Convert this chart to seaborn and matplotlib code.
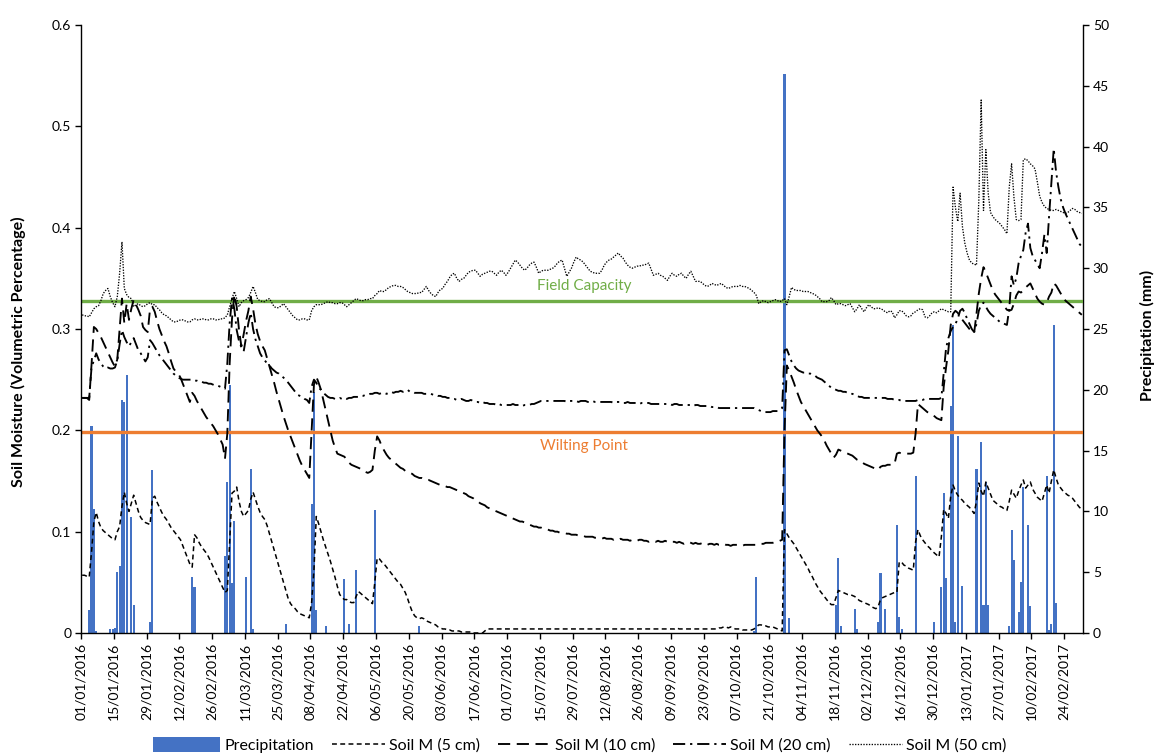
import numpy as np
import pandas as pd
import matplotlib
matplotlib.use("Agg")
import matplotlib.pyplot as plt
from matplotlib.patches import Patch, Rectangle
from matplotlib.lines import Line2D
from matplotlib.legend_handler import HandlerPatch
import seaborn as sns

# ---------------------------------------------------------------
# Daily record, 01/01/2016 (day 0) to 03/03/2017 (day 427)
# ---------------------------------------------------------------
tick_labels = [
    "01/01/2016", "15/01/2016", "29/01/2016", "12/02/2016", "26/02/2016",
    "11/03/2016", "25/03/2016", "08/04/2016", "22/04/2016", "06/05/2016",
    "20/05/2016", "03/06/2016", "17/06/2016", "01/07/2016", "15/07/2016",
    "29/07/2016", "12/08/2016", "26/08/2016", "09/09/2016", "23/09/2016",
    "07/10/2016", "21/10/2016", "04/11/2016", "18/11/2016", "02/12/2016",
    "16/12/2016", "30/12/2016", "13/01/2017", "27/01/2017", "10/02/2017",
    "24/02/2017",
]

# rain days (day index) and daily precipitation (mm)
rain_day = [3, 4, 5, 6, 12, 13, 14, 15, 16, 17, 18, 19, 21, 22, 29, 30, 47, 48,
            61, 62, 63, 64, 65, 70, 72, 73, 87, 98, 99, 100, 104, 112, 114, 117,
            125, 144, 287, 288, 300, 302, 322, 323, 324, 330, 331, 340, 341, 343,
            348, 349, 350, 356, 364, 367, 368, 369, 371, 372, 373, 374, 376,
            382, 384, 385, 386, 387, 396, 397, 398, 400, 401, 402, 404, 405,
            412, 413, 414, 415, 416]
rain_mm = [1.9, 17.0, 10.2, 0.2, 0.3, 0.3, 0.4, 5.0, 5.5, 19.2, 19.0, 21.2, 9.5, 2.3,
           0.9, 13.4, 4.6, 3.8, 6.3, 12.4, 20.4, 4.1, 9.2, 4.6, 13.5, 0.3, 0.7,
           10.6, 19.8, 1.9, 0.6, 4.4, 0.7, 5.2, 10.1, 0.6, 0.2, 4.6, 46.0, 1.2,
           2.3, 6.2, 0.6, 2.0, 0.3, 0.9, 4.9, 2.0, 8.9, 1.3, 0.3, 12.9, 0.9,
           3.8, 11.5, 4.5, 18.7, 25.3, 0.9, 16.2, 3.9, 13.5, 15.7, 2.3, 12.4,
           2.3, 0.6, 8.5, 6.0, 1.75, 4.2, 12.0, 8.9, 2.2, 12.9, 0.25, 0.7,
           25.3, 2.5]

soil_5cm = [
    0.057, 0.057, 0.056, 0.055, 0.080, 0.110, 0.119, 0.110, 0.104, 0.101,
    0.099, 0.097, 0.095, 0.093, 0.092, 0.100, 0.105, 0.125, 0.139, 0.128,
    0.120, 0.128, 0.136, 0.128, 0.120, 0.114, 0.111, 0.109, 0.108, 0.107,
    0.133, 0.135, 0.129, 0.124, 0.119, 0.115, 0.112, 0.108, 0.104, 0.101,
    0.098, 0.095, 0.092, 0.086, 0.080, 0.074, 0.068, 0.065, 0.097, 0.094,
    0.089, 0.085, 0.082, 0.079, 0.075, 0.070, 0.065, 0.060, 0.055, 0.050,
    0.045, 0.040, 0.042, 0.090, 0.138, 0.140, 0.144, 0.130, 0.120, 0.115,
    0.118, 0.121, 0.132, 0.139, 0.132, 0.125, 0.119, 0.115, 0.112, 0.106,
    0.098, 0.090, 0.082, 0.074, 0.066, 0.058, 0.050, 0.042, 0.034, 0.029,
    0.026, 0.024, 0.021, 0.019, 0.018, 0.017, 0.016, 0.015, 0.030, 0.062,
    0.115, 0.108, 0.100, 0.092, 0.085, 0.078, 0.071, 0.063, 0.055, 0.046,
    0.038, 0.035, 0.033, 0.033, 0.031, 0.030, 0.030, 0.036, 0.041, 0.039,
    0.037, 0.035, 0.033, 0.031, 0.029, 0.050, 0.074, 0.073, 0.070, 0.068,
    0.065, 0.062, 0.059, 0.056, 0.053, 0.050, 0.048, 0.044, 0.040, 0.034,
    0.027, 0.021, 0.017, 0.015, 0.014, 0.015, 0.014, 0.012, 0.011, 0.010,
    0.009, 0.008, 0.006, 0.005, 0.004, 0.004, 0.003, 0.003, 0.002, 0.002,
    0.002, 0.002, 0.001, 0.001, 0.001, 0.001, 0.001, 0.000, 0.000, 0.000,
    0.000, 0.000, 0.002, 0.004, 0.004, 0.004, 0.004, 0.004, 0.004, 0.004,
    0.004, 0.004, 0.004, 0.004, 0.004, 0.004, 0.004, 0.004, 0.004, 0.004,
    0.004, 0.004, 0.004, 0.004, 0.004, 0.004, 0.004, 0.004, 0.004, 0.004,
    0.004, 0.004, 0.004, 0.004, 0.004, 0.004, 0.004, 0.004, 0.004, 0.004,
    0.004, 0.004, 0.004, 0.004, 0.004, 0.004, 0.004, 0.004, 0.004, 0.004,
    0.004, 0.004, 0.004, 0.004, 0.004, 0.004, 0.004, 0.004, 0.004, 0.004,
    0.004, 0.004, 0.004, 0.004, 0.004, 0.004, 0.004, 0.004, 0.004, 0.004,
    0.004, 0.004, 0.004, 0.004, 0.004, 0.004, 0.004, 0.004, 0.004, 0.004,
    0.004, 0.004, 0.004, 0.004, 0.005, 0.004, 0.004, 0.004, 0.004, 0.004,
    0.004, 0.004, 0.004, 0.004, 0.004, 0.004, 0.004, 0.004, 0.004, 0.004,
    0.004, 0.004, 0.005, 0.005, 0.006, 0.006, 0.005, 0.006, 0.005, 0.004,
    0.004, 0.004, 0.003, 0.003, 0.003, 0.003, 0.003, 0.004, 0.006, 0.008,
    0.008, 0.007, 0.007, 0.006, 0.006, 0.006, 0.005, 0.004, 0.003, 0.002,
    0.102, 0.098, 0.094, 0.091, 0.088, 0.084, 0.080, 0.076, 0.072, 0.068,
    0.064, 0.059, 0.055, 0.050, 0.046, 0.042, 0.039, 0.036, 0.033, 0.030,
    0.028, 0.028, 0.035, 0.042, 0.041, 0.040, 0.039, 0.038, 0.038, 0.037,
    0.036, 0.034, 0.032, 0.031, 0.030, 0.029, 0.028, 0.026, 0.025, 0.024,
    0.026, 0.033, 0.035, 0.036, 0.037, 0.038, 0.039, 0.040, 0.040, 0.070,
    0.070, 0.067, 0.066, 0.064, 0.063, 0.062, 0.090, 0.102, 0.096, 0.092,
    0.089, 0.086, 0.084, 0.081, 0.079, 0.077, 0.075, 0.095, 0.122, 0.118,
    0.113, 0.135, 0.146, 0.140, 0.136, 0.133, 0.131, 0.128, 0.126, 0.124,
    0.121, 0.118, 0.130, 0.148, 0.140, 0.135, 0.149, 0.143, 0.137, 0.131,
    0.129, 0.127, 0.125, 0.124, 0.122, 0.121, 0.130, 0.141, 0.137, 0.133,
    0.140, 0.146, 0.151, 0.143, 0.146, 0.149, 0.142, 0.138, 0.134, 0.132,
    0.130, 0.138, 0.146, 0.138, 0.150, 0.161, 0.153, 0.146, 0.143, 0.140,
    0.138, 0.136, 0.135, 0.133, 0.130, 0.127, 0.124, 0.122,
]

soil_10cm = [
    0.232, 0.232, 0.232, 0.230, 0.265, 0.302, 0.300, 0.296, 0.292, 0.287,
    0.282, 0.277, 0.272, 0.267, 0.263, 0.270, 0.300, 0.330, 0.306, 0.325,
    0.309, 0.320, 0.329, 0.324, 0.319, 0.313, 0.302, 0.299, 0.297, 0.320,
    0.322, 0.317, 0.308, 0.300, 0.294, 0.288, 0.283, 0.276, 0.268, 0.261,
    0.258, 0.256, 0.252, 0.246, 0.240, 0.234, 0.228, 0.237, 0.234, 0.229,
    0.225, 0.221, 0.217, 0.213, 0.210, 0.207, 0.204, 0.200, 0.196, 0.191,
    0.186, 0.172, 0.197, 0.266, 0.310, 0.334, 0.322, 0.299, 0.283, 0.295,
    0.308, 0.318, 0.332, 0.320, 0.305, 0.295, 0.288, 0.283, 0.279, 0.271,
    0.263, 0.255, 0.247, 0.238, 0.230, 0.222, 0.214, 0.207, 0.200, 0.194,
    0.188, 0.182, 0.176, 0.170, 0.165, 0.161, 0.157, 0.153, 0.200, 0.245,
    0.253, 0.247, 0.240, 0.230, 0.220, 0.210, 0.200, 0.190, 0.183, 0.177,
    0.176, 0.175, 0.174, 0.171, 0.168, 0.166, 0.165, 0.164, 0.163, 0.162,
    0.160, 0.159, 0.158, 0.159, 0.161, 0.180, 0.194, 0.190, 0.184, 0.180,
    0.176, 0.173, 0.171, 0.169, 0.167, 0.165, 0.163, 0.162, 0.160, 0.159,
    0.158, 0.157, 0.155, 0.154, 0.153, 0.153, 0.152, 0.151, 0.151, 0.150,
    0.149, 0.148, 0.147, 0.146, 0.146, 0.145, 0.144, 0.144, 0.143, 0.142,
    0.141, 0.140, 0.139, 0.138, 0.137, 0.135, 0.134, 0.133, 0.131, 0.130,
    0.128, 0.127, 0.126, 0.124, 0.123, 0.122, 0.121, 0.120, 0.119, 0.118,
    0.117, 0.116, 0.115, 0.114, 0.113, 0.112, 0.111, 0.110, 0.110, 0.109,
    0.108, 0.107, 0.106, 0.105, 0.105, 0.104, 0.104, 0.103, 0.103, 0.102,
    0.101, 0.101, 0.100, 0.100, 0.099, 0.099, 0.099, 0.098, 0.098, 0.097,
    0.097, 0.097, 0.096, 0.096, 0.096, 0.095, 0.095, 0.095, 0.095, 0.094,
    0.094, 0.094, 0.093, 0.094, 0.093, 0.093, 0.093, 0.092, 0.093, 0.092,
    0.093, 0.092, 0.092, 0.092, 0.091, 0.092, 0.092, 0.091, 0.092, 0.092,
    0.091, 0.091, 0.090, 0.091, 0.091, 0.090, 0.091, 0.090, 0.090, 0.091,
    0.090, 0.089, 0.090, 0.090, 0.089, 0.090, 0.089, 0.088, 0.089, 0.090,
    0.089, 0.088, 0.089, 0.088, 0.088, 0.089, 0.088, 0.087, 0.088, 0.088,
    0.087, 0.088, 0.087, 0.087, 0.088, 0.087, 0.087, 0.086, 0.087, 0.087,
    0.087, 0.087, 0.086, 0.087, 0.087, 0.087, 0.087, 0.087, 0.087, 0.088,
    0.088, 0.088, 0.089, 0.089, 0.089, 0.089, 0.090, 0.090, 0.091, 0.092,
    0.200, 0.264, 0.259, 0.253, 0.247, 0.240, 0.234, 0.228, 0.224, 0.220,
    0.216, 0.212, 0.208, 0.204, 0.200, 0.197, 0.194, 0.190, 0.185, 0.181,
    0.177, 0.173, 0.176, 0.181, 0.180, 0.179, 0.178, 0.177, 0.176, 0.175,
    0.173, 0.171, 0.170, 0.169, 0.167, 0.166, 0.165, 0.164, 0.163, 0.162,
    0.161, 0.164, 0.165, 0.165, 0.166, 0.166, 0.166, 0.167, 0.177, 0.178,
    0.177, 0.177, 0.177, 0.177, 0.177, 0.178, 0.197, 0.226, 0.224, 0.222,
    0.220, 0.218, 0.217, 0.216, 0.214, 0.212, 0.211, 0.210, 0.243, 0.262,
    0.279, 0.304, 0.315, 0.318, 0.316, 0.312, 0.309, 0.306, 0.303, 0.300,
    0.298, 0.296, 0.315, 0.335, 0.350, 0.361, 0.356, 0.350, 0.344, 0.338,
    0.334, 0.331, 0.328, 0.325, 0.322, 0.319, 0.318, 0.319, 0.325, 0.333,
    0.337, 0.336, 0.338, 0.341, 0.343, 0.345, 0.340, 0.335, 0.330, 0.327,
    0.325, 0.324, 0.326, 0.332, 0.336, 0.345, 0.343, 0.339, 0.335, 0.331,
    0.328, 0.326, 0.324, 0.322, 0.320, 0.318, 0.316, 0.314,
]

soil_20cm = [
    0.232, 0.232, 0.232, 0.232, 0.262, 0.269, 0.276, 0.270, 0.266, 0.263,
    0.261, 0.262, 0.261, 0.261, 0.262, 0.269, 0.285, 0.299, 0.292, 0.287,
    0.283, 0.287, 0.291, 0.285, 0.279, 0.276, 0.272, 0.268, 0.272, 0.289,
    0.286, 0.282, 0.278, 0.274, 0.271, 0.268, 0.265, 0.262, 0.259, 0.256,
    0.254, 0.252, 0.251, 0.250, 0.250, 0.250, 0.250, 0.250, 0.249, 0.249,
    0.248, 0.248, 0.247, 0.247, 0.246, 0.246, 0.245, 0.244, 0.244, 0.243,
    0.242, 0.241, 0.266, 0.306, 0.330, 0.320, 0.299, 0.288, 0.282, 0.278,
    0.292, 0.306, 0.316, 0.300, 0.290, 0.283, 0.276, 0.272, 0.269, 0.266,
    0.264, 0.261, 0.259, 0.257, 0.256, 0.254, 0.252, 0.250, 0.247, 0.244,
    0.241, 0.238, 0.235, 0.234, 0.233, 0.231, 0.230, 0.227, 0.243, 0.250,
    0.247, 0.242, 0.240, 0.237, 0.235, 0.233, 0.232, 0.232, 0.231, 0.231,
    0.232, 0.231, 0.232, 0.231, 0.232, 0.232, 0.233, 0.233, 0.233, 0.234,
    0.234, 0.235, 0.235, 0.236, 0.236, 0.237, 0.237, 0.236, 0.237, 0.237,
    0.236, 0.237, 0.238, 0.237, 0.238, 0.238, 0.239, 0.238, 0.239, 0.240,
    0.238, 0.238, 0.237, 0.237, 0.237, 0.237, 0.236, 0.236, 0.236, 0.236,
    0.235, 0.235, 0.234, 0.234, 0.233, 0.233, 0.232, 0.232, 0.231, 0.231,
    0.230, 0.230, 0.231, 0.230, 0.229, 0.229, 0.230, 0.229, 0.228, 0.228,
    0.227, 0.228, 0.227, 0.227, 0.226, 0.226, 0.226, 0.225, 0.226, 0.225,
    0.225, 0.225, 0.225, 0.225, 0.226, 0.225, 0.225, 0.225, 0.224, 0.225,
    0.225, 0.225, 0.226, 0.226, 0.227, 0.228, 0.229, 0.229, 0.229, 0.229,
    0.229, 0.229, 0.229, 0.229, 0.229, 0.229, 0.229, 0.228, 0.229, 0.229,
    0.229, 0.229, 0.228, 0.229, 0.229, 0.229, 0.228, 0.228, 0.229, 0.228,
    0.228, 0.228, 0.228, 0.228, 0.228, 0.228, 0.228, 0.227, 0.228, 0.228,
    0.228, 0.227, 0.227, 0.228, 0.227, 0.227, 0.227, 0.227, 0.226, 0.227,
    0.227, 0.227, 0.227, 0.226, 0.226, 0.226, 0.226, 0.226, 0.226, 0.226,
    0.226, 0.226, 0.225, 0.226, 0.226, 0.225, 0.225, 0.225, 0.225, 0.225,
    0.225, 0.224, 0.225, 0.225, 0.224, 0.224, 0.224, 0.224, 0.224, 0.223,
    0.223, 0.223, 0.222, 0.222, 0.222, 0.222, 0.222, 0.222, 0.222, 0.222,
    0.222, 0.222, 0.222, 0.222, 0.222, 0.222, 0.222, 0.222, 0.221, 0.220,
    0.219, 0.218, 0.218, 0.218, 0.218, 0.219, 0.219, 0.219, 0.220, 0.222,
    0.279, 0.280, 0.274, 0.268, 0.264, 0.261, 0.259, 0.258, 0.257, 0.257,
    0.256, 0.256, 0.255, 0.254, 0.252, 0.251, 0.250, 0.248, 0.246, 0.244,
    0.242, 0.241, 0.240, 0.239, 0.239, 0.238, 0.238, 0.237, 0.236, 0.236,
    0.235, 0.234, 0.233, 0.233, 0.232, 0.232, 0.232, 0.232, 0.232, 0.232,
    0.232, 0.232, 0.232, 0.232, 0.231, 0.231, 0.231, 0.230, 0.230, 0.230,
    0.229, 0.229, 0.229, 0.229, 0.229, 0.229, 0.229, 0.230, 0.230, 0.230,
    0.231, 0.231, 0.231, 0.231, 0.231, 0.231, 0.231, 0.232, 0.256, 0.281,
    0.291, 0.298, 0.302, 0.305, 0.310, 0.318, 0.320, 0.316, 0.310, 0.305,
    0.300, 0.297, 0.305, 0.318, 0.324, 0.326, 0.322, 0.318, 0.315, 0.313,
    0.311, 0.309, 0.307, 0.306, 0.305, 0.304, 0.320, 0.352, 0.343, 0.350,
    0.365, 0.372, 0.378, 0.395, 0.404, 0.380, 0.372, 0.368, 0.364, 0.360,
    0.375, 0.393, 0.375, 0.411, 0.445, 0.478, 0.455, 0.440, 0.428, 0.420,
    0.414, 0.409, 0.404, 0.399, 0.394, 0.389, 0.384, 0.381,
]

soil_50cm = [
    0.314, 0.313, 0.313, 0.312, 0.316, 0.320, 0.322, 0.323, 0.328, 0.335,
    0.338, 0.340, 0.332, 0.326, 0.322, 0.332, 0.355, 0.386, 0.340, 0.334,
    0.331, 0.330, 0.322, 0.324, 0.325, 0.323, 0.322, 0.323, 0.325, 0.326,
    0.324, 0.324, 0.321, 0.319, 0.316, 0.314, 0.313, 0.311, 0.309, 0.307,
    0.307, 0.308, 0.309, 0.309, 0.308, 0.307, 0.307, 0.309, 0.310, 0.309,
    0.309, 0.310, 0.310, 0.309, 0.309, 0.310, 0.310, 0.309, 0.309, 0.310,
    0.310, 0.311, 0.314, 0.322, 0.330, 0.337, 0.330, 0.322, 0.326, 0.328,
    0.329, 0.331, 0.336, 0.342, 0.336, 0.329, 0.328, 0.327, 0.327, 0.329,
    0.330, 0.326, 0.322, 0.321, 0.321, 0.323, 0.325, 0.322, 0.319, 0.316,
    0.313, 0.311, 0.309, 0.309, 0.310, 0.310, 0.309, 0.309, 0.318, 0.322,
    0.324, 0.324, 0.324, 0.325, 0.326, 0.327, 0.326, 0.326, 0.325, 0.325,
    0.326, 0.326, 0.324, 0.322, 0.324, 0.326, 0.328, 0.330, 0.329, 0.328,
    0.328, 0.329, 0.329, 0.330, 0.330, 0.333, 0.335, 0.338, 0.337, 0.337,
    0.339, 0.341, 0.342, 0.343, 0.343, 0.342, 0.342, 0.341, 0.339, 0.337,
    0.336, 0.335, 0.335, 0.335, 0.336, 0.336, 0.339, 0.342, 0.338, 0.335,
    0.333, 0.332, 0.336, 0.339, 0.340, 0.344, 0.347, 0.351, 0.354, 0.355,
    0.350, 0.347, 0.349, 0.350, 0.353, 0.356, 0.357, 0.358, 0.358, 0.355,
    0.352, 0.354, 0.355, 0.356, 0.357, 0.357, 0.355, 0.353, 0.356, 0.358,
    0.356, 0.353, 0.356, 0.360, 0.364, 0.368, 0.366, 0.363, 0.360, 0.358,
    0.360, 0.363, 0.365, 0.366, 0.361, 0.355, 0.357, 0.358, 0.358, 0.358,
    0.359, 0.360, 0.362, 0.365, 0.367, 0.368, 0.360, 0.352, 0.356, 0.360,
    0.366, 0.371, 0.369, 0.368, 0.366, 0.363, 0.360, 0.357, 0.356, 0.355,
    0.355, 0.355, 0.358, 0.363, 0.366, 0.368, 0.369, 0.371, 0.373, 0.375,
    0.372, 0.370, 0.366, 0.363, 0.361, 0.360, 0.361, 0.362, 0.362, 0.363,
    0.363, 0.364, 0.365, 0.359, 0.353, 0.354, 0.355, 0.353, 0.352, 0.350,
    0.348, 0.352, 0.355, 0.353, 0.352, 0.354, 0.355, 0.352, 0.350, 0.354,
    0.357, 0.352, 0.347, 0.347, 0.347, 0.345, 0.343, 0.342, 0.343, 0.345,
    0.344, 0.343, 0.344, 0.345, 0.343, 0.341, 0.340, 0.341, 0.342, 0.342,
    0.342, 0.343, 0.342, 0.342, 0.341, 0.340, 0.338, 0.336, 0.333, 0.325,
    0.327, 0.328, 0.327, 0.326, 0.327, 0.328, 0.329, 0.328, 0.327, 0.328,
    0.330, 0.324, 0.332, 0.341, 0.339, 0.338, 0.338, 0.338, 0.337, 0.337,
    0.337, 0.336, 0.335, 0.334, 0.332, 0.330, 0.327, 0.327, 0.327, 0.328,
    0.331, 0.328, 0.324, 0.325, 0.325, 0.324, 0.323, 0.324, 0.325, 0.321,
    0.317, 0.320, 0.324, 0.320, 0.317, 0.321, 0.324, 0.322, 0.320, 0.320,
    0.321, 0.320, 0.319, 0.317, 0.316, 0.318, 0.317, 0.311, 0.314, 0.318,
    0.318, 0.316, 0.313, 0.312, 0.313, 0.316, 0.317, 0.319, 0.320, 0.319,
    0.312, 0.311, 0.313, 0.316, 0.317, 0.316, 0.318, 0.320, 0.319, 0.318,
    0.317, 0.317, 0.440, 0.420, 0.406, 0.434, 0.401, 0.385, 0.375, 0.368,
    0.365, 0.364, 0.363, 0.427, 0.526, 0.417, 0.477, 0.434, 0.415, 0.411,
    0.408, 0.406, 0.404, 0.401, 0.398, 0.394, 0.440, 0.463, 0.430, 0.408,
    0.407, 0.408, 0.467, 0.468, 0.466, 0.463, 0.461, 0.458, 0.445, 0.431,
    0.425, 0.421, 0.419, 0.418, 0.417, 0.417, 0.418, 0.417, 0.416, 0.415,
    0.414, 0.415, 0.417, 0.419, 0.418, 0.416, 0.415, 0.414,
]

field_capacity = 0.328
wilting_point = 0.198

series = {
    "Soil M (5 cm)": soil_5cm,
    "Soil M (10 cm)": soil_10cm,
    "Soil M (20 cm)": soil_20cm,
    "Soil M (50 cm)": soil_50cm,
}
n_days = len(soil_5cm)
for name, vals in series.items():
    if len(vals) != n_days:
        raise ValueError(f"{name}: {len(vals)} values, expected {n_days}")

day_pos = np.arange(n_days) + 0.5
precip = np.zeros(n_days)
precip[rain_day] = rain_mm
rain_df = pd.DataFrame({"day": day_pos, "precip": precip})
soil_df = pd.DataFrame({"day": day_pos, **series})

# ---------------------------------------------------------------
# Styling
# ---------------------------------------------------------------
sns.set_theme(style="ticks")
plt.rcParams["font.family"] = ["Lato", "DejaVu Sans"]
plt.rcParams.update({
    "text.color": "black",
    "axes.labelcolor": "black",
    "xtick.color": "black",
    "ytick.color": "black",
    "axes.edgecolor": "black",
})

line_styles = {
    "Soil M (5 cm)": dict(linestyle=(0, (3.2, 2.2)), lw=1.1),
    "Soil M (10 cm)": dict(linestyle=(0, (6.5, 3.5)), lw=1.35),
    "Soil M (20 cm)": dict(linestyle=(0, (6.5, 2.6, 1.2, 2.6)), lw=1.35),
    "Soil M (50 cm)": dict(linestyle=(0, (1, 1.1)), lw=0.95),
}
bar_color = "#4472C4"
fc_color = "#70AD47"
wp_color = "#ED7D31"

W, H = 1155, 756
fig = plt.figure(figsize=(W / 100, H / 100), dpi=100)
ax = fig.add_axes([81 / W, 1 - 633 / H, (1083 - 81) / W, (633 - 25) / H])
ax2 = ax.twinx()
ax.set_zorder(ax2.get_zorder() + 1)
ax.patch.set_visible(False)

# precipitation bars on the secondary axis
sns.barplot(data=rain_df, x="day", y="precip", native_scale=True,
            color=bar_color, saturation=1, width=0.9, errorbar=None,
            linewidth=0, ax=ax2)

# reference levels
ax.axhline(field_capacity, color=fc_color, lw=2.4, zorder=1.5)
ax.axhline(wilting_point, color=wp_color, lw=2.4, zorder=1.5)
ax.text(215, 0.3427, "Field Capacity", color=fc_color, fontsize=11,
        ha="center", va="center", zorder=1.6)
ax.text(215, 0.1845, "Wilting Point", color=wp_color, fontsize=11,
        ha="center", va="center", zorder=1.6)

# soil moisture lines
for name in series:
    sns.lineplot(data=soil_df, x="day", y=name, ax=ax, color="black",
                 estimator=None, legend=False, zorder=3, **line_styles[name])

# axes
ax.set_xlim(0, n_days)
ax.set_ylim(0, 0.6)
ax2.set_ylim(0, 50)
ax.set_yticks(np.arange(0, 0.61, 0.1))
ax.set_yticklabels(["0", "0.1", "0.2", "0.3", "0.4", "0.5", "0.6"])
ax2.set_yticks(np.arange(0, 51, 5))
ax.set_xticks(np.arange(0, 14 * len(tick_labels), 14))
ax.set_xticklabels(tick_labels, rotation=90)
ax.set_xlabel("")
ax2.set_xlabel("")

for a in (ax, ax2):
    a.tick_params(axis="both", direction="out", length=4, width=1,
                  labelsize=10, pad=3)
    a.spines["top"].set_visible(False)
    for s in ("left", "right", "bottom"):
        a.spines[s].set_linewidth(1.0)
        a.spines[s].set_color("black")
ax.spines["right"].set_visible(False)
ax2.spines["left"].set_visible(False)
ax2.spines["bottom"].set_visible(False)
ax.tick_params(axis="x", pad=3)

ax.set_ylabel("Soil Moisture (Volumetric Percentage)", fontsize=11.5,
              fontweight="bold")
ax.yaxis.set_label_coords(-0.055, 0.463)
ax2.set_ylabel("Precipitation (mm)", fontsize=11.5, fontweight="bold")
ax2.yaxis.set_label_coords(1.057, 0.49)


# legend swatch for the bars: wider and taller than the line samples
def wide_swatch(legend, orig_handle, xdescent, ydescent, width, height,
                fontsize):
    extra = 0.28 * width
    return Rectangle((-xdescent - extra, -ydescent - 0.2 * height),
                     width + extra, height * 1.35)


handles = [Patch(facecolor=bar_color, edgecolor="none")]
labels = ["Precipitation"]
for name in series:
    handles.append(Line2D([], [], color="black", **line_styles[name]))
    labels.append(name)
fig.legend(handles, labels, loc="center", bbox_to_anchor=(0.508, 0.0135),
           ncol=5, frameon=False, fontsize=11.5, handlelength=3.3,
           handletextpad=0.25, columnspacing=1.15,
           handler_map={Patch: HandlerPatch(patch_func=wide_swatch)})

fig.savefig("out.png", dpi=100)
